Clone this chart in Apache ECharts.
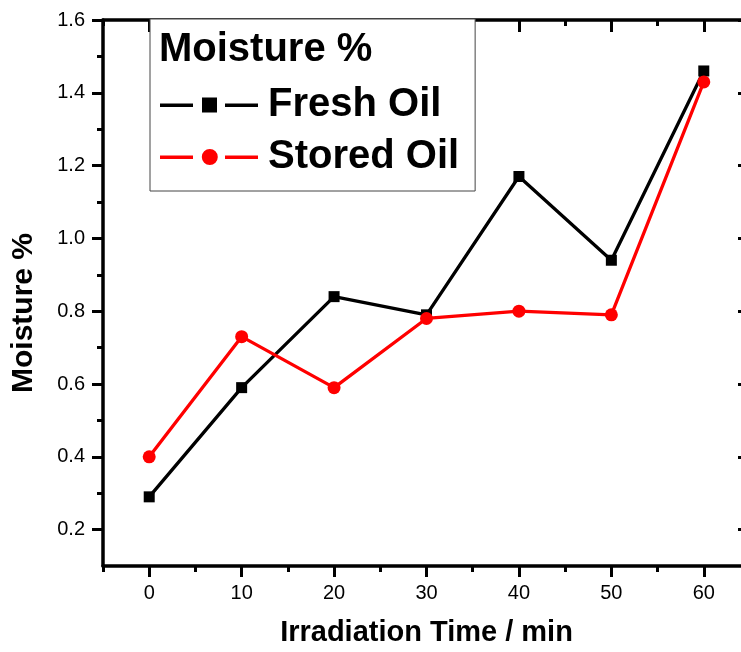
<!DOCTYPE html>
<html>
<head>
<meta charset="utf-8">
<script src="https://cdn.jsdelivr.net/npm/echarts@6/dist/echarts.min.js"></script>
<style>
html,body{margin:0;padding:0;background:#fff;}
#chart{width:741px;height:652px;}
</style>
</head>
<body>
<div id="chart"></div>
<script>
var times = [0, 10, 20, 30, 40, 50, 60];
var freshOil = [0.29, 0.59, 0.84, 0.79, 1.17, 0.94, 1.46];
var storedOil = [0.40, 0.73, 0.59, 0.78, 0.80, 0.79, 1.43];
var xMajor = [0, 10, 20, 30, 40, 50, 60];
var xMinor = [-5, 5, 15, 25, 35, 45, 55, 65];
var yMajor = [0.2, 0.4, 0.6, 0.8, 1.0, 1.2, 1.4, 1.6];
var yMinor = [0.3, 0.5, 0.7, 0.9, 1.1, 1.3, 1.5];

var FONT = '"Liberation Sans", Arial, sans-serif';
function pairs(xs, ys) { return xs.map(function (x, i) { return [x, ys[i]]; }); }

var lineW = 3.5, tickW = 3;
function xAx(pos, vals, len, inside, showLine, extra) {
  var a = {
    type: 'value', min: -5, max: 65, position: pos, gridIndex: 0,
    splitLine: { show: false },
    axisLine: { show: showLine, onZero: false, lineStyle: { color: '#000', width: lineW } },
    axisTick: { show: true, inside: inside, length: len, customValues: vals, lineStyle: { color: '#000', width: tickW } },
    axisLabel: { show: false, customValues: vals }
  };
  return Object.assign(a, extra || {});
}
function yAx(pos, vals, len, inside, showLine, extra) {
  var a = {
    type: 'value', min: 0.1, max: 1.6, position: pos, gridIndex: 0,
    splitLine: { show: false },
    axisLine: { show: showLine, onZero: false, lineStyle: { color: '#000', width: lineW } },
    axisTick: { show: true, inside: inside, length: len, customValues: vals, lineStyle: { color: '#000', width: tickW } },
    axisLabel: { show: false, customValues: vals }
  };
  return Object.assign(a, extra || {});
}

var chart = echarts.init(document.getElementById('chart'), null, { renderer: 'canvas' });
chart.setOption({
  backgroundColor: '#fff',
  animation: false,
  textStyle: { fontFamily: FONT },
  grid: { left: 103, right: -9, top: 20, bottom: 86, containLabel: false, outerBoundsMode: 'none' },
  title: {
    text: 'Moisture %', left: 159, top: 30, padding: 0, z: 20,
    textStyle: { fontFamily: FONT, fontSize: 40, fontWeight: 'bold', color: '#000', lineHeight: 40 }
  },
  legend: {
    left: 150, top: 19, orient: 'vertical',
    padding: [66, 16, 14, 10],
    itemWidth: 98, itemHeight: 16, itemGap: 12,
    borderColor: '#444', borderWidth: 1, backgroundColor: '#fff',
    selectedMode: false,
    itemStyle: { borderWidth: 0 },
    textStyle: { fontFamily: FONT, fontSize: 40, fontWeight: 'bold', color: '#000', lineHeight: 40, padding: [0, 0, 0, 5] },
    data: [
      { name: 'Fresh Oil', icon: 'path://M0,6.5h33v3.5H0z M42,0.5h15v15H42z M65,6.5h33v3.5H65z' },
      { name: 'Stored Oil', icon: 'path://M0,6.5h33v3.5H0z M41.8,8a8,8 0 1,0 16,0a8,8 0 1,0 -16,0z M65,6.5h33v3.5H65z' }
    ]
  },
  xAxis: [
    xAx('bottom', xMajor, 11, false, true, {
      axisLabel: { show: true, customValues: xMajor, fontSize: 20, color: '#000', margin: 17, fontFamily: FONT },
      name: 'Irradiation Time / min', nameLocation: 'middle', nameGap: 52,
      nameTextStyle: { fontSize: 29, fontWeight: 'bold', color: '#000', fontFamily: FONT }
    }),
    xAx('bottom', xMinor, 6, false, false),
    xAx('top', xMajor, 12, true, true),
    xAx('top', xMinor, 6, true, false)
  ],
  yAxis: [
    yAx('left', yMajor, 11, false, true, {
      axisLabel: { show: true, customValues: yMajor, fontSize: 20, color: '#000', margin: 18, fontFamily: FONT,
        formatter: function (v) { return v.toFixed(1); } },
      name: 'Moisture %', nameLocation: 'middle', nameGap: 64,
      nameTextStyle: { fontSize: 30, fontWeight: 'bold', color: '#000', fontFamily: FONT, padding: [0, 40, 0, 0] }
    }),
    yAx('left', yMinor, 6, false, false),
    yAx('right', yMajor, 12, true, true),
    yAx('right', yMinor, 6, true, false)
  ],
  series: [
    {
      name: 'Fresh Oil', type: 'line', xAxisIndex: 0, yAxisIndex: 0,
      data: pairs(times, freshOil),
      symbol: 'rect', symbolSize: 11, showAllSymbol: true,
      lineStyle: { color: '#000', width: 3.3 },
      itemStyle: { color: '#000', borderWidth: 0 },
      z: 3
    },
    {
      name: 'Stored Oil', type: 'line', xAxisIndex: 0, yAxisIndex: 0,
      data: pairs(times, storedOil),
      symbol: 'circle', symbolSize: 13, showAllSymbol: true,
      lineStyle: { color: '#ff0000', width: 3.3 },
      itemStyle: { color: '#ff0000', borderWidth: 0 },
      z: 4
    }
  ]
});
</script>
</body>
</html>
